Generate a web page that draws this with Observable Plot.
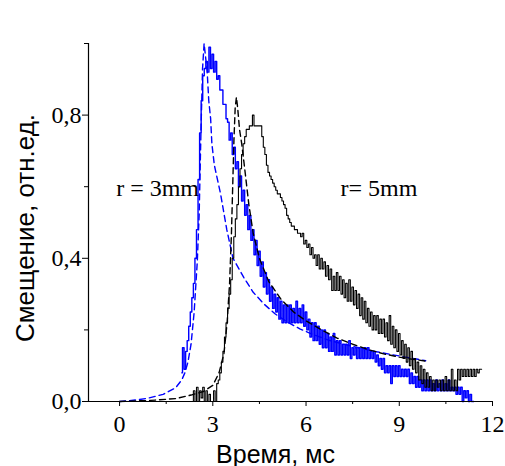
<!DOCTYPE html>
<html><head><meta charset="utf-8">
<script src="https://cdn.jsdelivr.net/npm/d3@7"></script>
<script src="https://cdn.jsdelivr.net/npm/@observablehq/plot@0.6"></script>
<style>body{margin:0;background:#fff;} svg{display:block;}</style>
</head><body><div id="chart"></div>
<script>
const xDomain = [-1, 12];
const yDomain = [0, 1];
const xTicks = [0, 3, 6, 9, 12];
const xMinor = [1.5, 4.5, 7.5, 10.5];
const yTicks = [0, 0.4, 0.8];
const yMinor = [0.2, 0.6, 1.0];

// r = 3mm, measured (blue), sampled every 0.05 ms from 2.00 ms
const blueStart = 2.0, blueStep = 0.05;
const blueNoisy = [
  0.08,0.15,0.09,0.14,0.17,0.21,0.25,0.29,0.33,0.40,
  0.48,0.62,0.75,0.84,0.91,0.93,0.95,0.92,0.99,0.93,
  0.97,0.92,0.95,0.90,0.91,0.87,0.87,0.83,0.83,0.79,
  0.78,0.73,0.75,0.69,0.71,0.65,0.67,0.60,0.63,0.56,
  0.59,0.52,0.55,0.48,0.52,0.45,0.48,0.41,0.45,0.38,
  0.42,0.35,0.39,0.32,0.36,0.30,0.34,0.28,0.32,0.26,
  0.30,0.25,0.29,0.23,0.28,0.22,0.27,0.22,0.27,0.22,
  0.27,0.22,0.26,0.22,0.28,0.22,0.26,0.22,0.27,0.21,
  0.25,0.20,0.23,0.18,0.22,0.17,0.22,0.17,0.21,0.16,
  0.20,0.15,0.20,0.15,0.19,0.14,0.18,0.14,0.19,0.13,
  0.17,0.13,0.17,0.13,0.16,0.13,0.16,0.13,0.17,0.12,
  0.15,0.13,0.15,0.12,0.15,0.12,0.15,0.12,0.15,0.12,
  0.15,0.12,0.14,0.12,0.14,0.11,0.13,0.10,0.12,0.09,
  0.12,0.08,0.10,0.08,0.10,0.05,0.10,0.07,0.10,0.07,
  0.10,0.07,0.09,0.07,0.09,0.07,0.09,0.05,0.08,0.05,
  0.07,0.04,0.07,0.04,0.06,0.03,0.06,0.03,0.06,0.03,
  0.06,0.03,0.05,0.03,0.06,0.03,0.05,0.03,0.06,0.03,
  0.05,0.03,0.06,0.03,0.04,0.03,0.04,0.02,0.04,0.02,
  0.04,0.00,0.03,0.01,0.03,0.00,0.02,0.00,0.00
];

// r = 5mm, measured (black), sampled every 0.05 ms from 2.35 ms
const blackStart = 2.35, blackStep = 0.05;
const blackNoisy = [
  0.00,0.03,0.00,0.04,0.00,0.03,0.01,0.04,0.00,0.03,
  0.00,0.02,0.00,0.00,0.03,0.00,0.05,0.06,0.08,0.11,
  0.14,0.18,0.22,0.26,0.30,0.34,0.40,0.46,0.51,0.55,
  0.60,0.65,0.69,0.72,0.74,0.76,0.76,0.77,0.77,0.80,
  0.77,0.77,0.77,0.77,0.77,0.74,0.71,0.69,0.66,0.64,
  0.63,0.62,0.61,0.60,0.59,0.58,0.58,0.57,0.56,0.55,
  0.54,0.52,0.51,0.50,0.49,0.49,0.48,0.48,0.47,0.47,
  0.46,0.47,0.44,0.45,0.43,0.44,0.41,0.43,0.40,0.41,
  0.38,0.41,0.37,0.40,0.37,0.39,0.35,0.38,0.34,0.37,
  0.31,0.35,0.31,0.36,0.31,0.35,0.30,0.34,0.29,0.33,
  0.28,0.34,0.28,0.32,0.27,0.31,0.26,0.30,0.24,0.29,
  0.23,0.28,0.22,0.26,0.21,0.25,0.20,0.24,0.20,0.24,
  0.19,0.23,0.19,0.23,0.18,0.22,0.17,0.24,0.16,0.21,
  0.15,0.20,0.14,0.19,0.13,0.17,0.12,0.16,0.11,0.15,
  0.10,0.14,0.09,0.12,0.08,0.11,0.06,0.10,0.05,0.09,
  0.04,0.08,0.04,0.07,0.03,0.06,0.03,0.06,0.04,0.06,
  0.03,0.06,0.03,0.07,0.03,0.06,0.03,0.09,0.03,0.06,
  0.03,0.09,0.06,0.09,0.07,0.09,0.07,0.09,0.07,0.09,
  0.07,0.09,0.07,0.09,0.08,0.09,0.09
];

// model curves (dashed): [time, displacement]
const blueModel = [
  [0,0],[0.5,0.004],[0.9,0.009],[1.4,0.02],[1.8,0.038],[2.0,0.06],[2.1,0.08],
  [2.2,0.11],[2.3,0.16],[2.4,0.25],[2.5,0.39],[2.56,0.52],[2.62,0.76],[2.67,0.93],
  [2.72,1.0],[2.77,0.96],[2.82,0.92],[2.87,0.84],[2.93,0.79],[2.97,0.72],[3.05,0.66],
  [3.25,0.58],[3.45,0.48],[3.65,0.40],[4.0,0.346],[4.3,0.305],[4.65,0.272],[5.0,0.245],
  [5.4,0.222],[5.8,0.203],[6.2,0.188],[6.7,0.172],[7.2,0.16],[7.7,0.15],[8.2,0.14],
  [8.7,0.132],[9.2,0.124],[9.6,0.118],[9.85,0.114]
];
const blackModel = [
  [0,0],[1.0,0.003],[1.8,0.008],[2.3,0.018],[2.7,0.028],[3.0,0.045],[3.2,0.08],
  [3.36,0.135],[3.46,0.22],[3.54,0.33],[3.6,0.47],[3.64,0.6],[3.68,0.73],[3.72,0.82],
  [3.76,0.85],[3.8,0.82],[3.86,0.76],[3.93,0.72],[4.0,0.67],[4.08,0.61],[4.16,0.55],
  [4.3,0.47],[4.5,0.4],[4.8,0.335],[5.2,0.285],[5.6,0.25],[6.0,0.225],[6.5,0.2],
  [7.0,0.177],[7.5,0.16],[8.0,0.145],[8.5,0.133],[9.0,0.124],[9.5,0.117],[9.85,0.113]
];

const annotations = [
  {x: -0.11, y: 0.575, text: "r = 3mm"},
  {x: 7.11, y: 0.575, text: "r= 5mm"}
];
const xTitle = "Время, мс";
const yTitle = "Смещение, отн.ед.";

const blueData = blueNoisy.map((v, i) => ({x: blueStart + i * blueStep, y: v}));
const blackData = blackNoisy.map((v, i) => ({x: blackStart + i * blackStep, y: v}));

const serif = "Liberation Serif";
const sans = "Liberation Sans";
const fmt = d => d.toFixed(1).replace(".", ",");

const plot = Plot.plot({
  width: 505,
  height: 466,
  marginLeft: 88,
  marginRight: 13,
  marginTop: 43,
  marginBottom: 65,
  x: {domain: xDomain},
  y: {domain: yDomain},
  style: {background: "white", color: "black", fontFamily: serif, fontSize: "24px", overflow: "visible"},
  marks: [
    Plot.line(blueModel, {x: d => d[0], y: d => d[1], stroke: "#0000ff", strokeWidth: 1.4, strokeDasharray: "6,4"}),
    Plot.line(blueData, {x: "x", y: "y", stroke: "#0000ff", strokeWidth: 1.4, curve: "step"}),
    Plot.line(blackData, {x: "x", y: "y", stroke: "#000000", strokeWidth: 1.1, curve: "step"}),
    Plot.line(blackModel, {x: d => d[0], y: d => d[1], stroke: "#000000", strokeWidth: 1.4, strokeDasharray: "6,4"}),
    Plot.ruleY([yDomain[0]], {stroke: "black", strokeWidth: 1.2}),
    Plot.ruleX([xDomain[0]], {stroke: "black", strokeWidth: 1.2}),
    Plot.axisX({ticks: xTicks, tickSize: 5, tickPadding: 8, fontSize: 24, fontFamily: serif, tickFormat: d => String(d), label: null}),
    Plot.axisX({ticks: xMinor, tickSize: 3, fill: "none", label: null}),
    Plot.axisY({ticks: yTicks, tickSize: 6, tickPadding: 1, fontSize: 24, fontFamily: serif, tickFormat: fmt, label: null}),
    Plot.axisY({ticks: yMinor, tickSize: 4, fill: "none", label: null}),
    Plot.text(annotations, {x: "x", y: "y", text: "text", textAnchor: "start", lineAnchor: "bottom", fontSize: 24, fontFamily: serif, fill: "black"}),
    Plot.text([xTitle], {text: d => d, frameAnchor: "bottom", textAnchor: "middle", dx: -15, dy: 61, lineAnchor: "bottom", fontSize: 25, fontFamily: sans, fill: "black"}),
    Plot.text([yTitle], {text: d => d, frameAnchor: "left", textAnchor: "middle", rotate: -90, dx: -55, dy: 5.5, lineAnchor: "bottom", fontSize: 26, fontFamily: sans, fill: "black"})
  ]
});
// set each text's family inline: titles sans, everything else serif
d3.select(plot).selectAll("text").each(function () {
  const t = this.textContent;
  const fam = (t === xTitle || t === yTitle) ? sans : serif;
  this.style.fontFamily = "'" + fam + "'";
  this.style.fontVariant = "normal";
});
document.getElementById("chart").appendChild(plot);
</script>
</body></html>
